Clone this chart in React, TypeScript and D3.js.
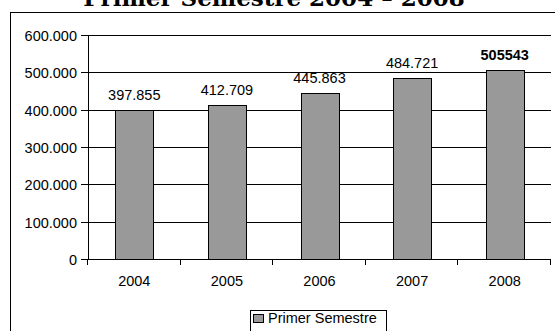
import React from "react";
import * as d3 from "d3";

const categories = ["2004", "2005", "2006", "2007", "2008"];
const values = [397855, 412709, 445863, 484721, 505543];
const valueLabels = ["397.855", "412.709", "445.863", "484.721", "505543"];
const yTicks = [0, 100000, 200000, 300000, 400000, 500000, 600000];
const yTickLabels = ["0", "100.000", "200.000", "300.000", "400.000", "500.000", "600.000"];
const seriesName = "Primer Semestre";
const title = "Primer Semestre 2004 – 2008";

export default function App() {
  const W = 555, H = 331;
  const left = 88, right = 551, top = 35, bottom = 259;
  const x = d3.scaleBand<string>().domain(categories).range([left, right]).paddingInner(0.59).paddingOuter(0.295);
  const xb = d3.scaleBand<string>().domain(categories).range([left, right]);
  const y = d3.scaleLinear().domain([0, 600000]).range([bottom, top]);
  const font = "Liberation Sans, Arial, sans-serif";
  const fs = 14.5;
  return (
    <svg width={W} height={H} style={{ position: "absolute", left: 0, top: 0, background: "#fff" }}>
      <rect x={0} y={0} width={W} height={H} fill="#fff" />
      <text x={274} y={6} textAnchor="middle" fontFamily="DejaVu Serif, serif" fontWeight="bold" fontSize={23} fill="#000">{title}</text>
      <rect x={10.5} y={12.5} width={560} height={330} fill="none" stroke="#000" strokeWidth={1} />
      {yTicks.map((t, i) => (
        <g key={t}>
          {t > 0 && <line x1={left} x2={right} y1={Math.round(y(t)) + 0.5} y2={Math.round(y(t)) + 0.5} stroke="#000" strokeWidth={1} />}
          <line x1={left - 7} x2={left} y1={Math.round(y(t)) + 0.5} y2={Math.round(y(t)) + 0.5} stroke="#000" />
          <text x={77} y={y(t) + 6} textAnchor="end" fontFamily={font} fontSize={fs} fill="#000">{yTickLabels[i]}</text>
        </g>
      ))}
      {values.map((v, i) => {
        const c = categories[i];
        const bx = x(c)!;
        return (
          <g key={c}>
            <rect x={Math.round(bx) + 0.5} y={Math.round(y(v)) + 0.5} width={Math.round(x.bandwidth())} height={Math.round(bottom - y(v))} fill="#999999" stroke="#000" strokeWidth={1} />
            <text x={bx + x.bandwidth() / 2} y={y(v) - 10} textAnchor="middle" fontFamily={font} fontSize={fs} fontWeight={i === 4 ? "bold" : "normal"} fill="#000">{valueLabels[i]}</text>
            <text x={xb(c)! + xb.bandwidth() / 2} y={286} textAnchor="middle" fontFamily={font} fontSize={fs} fill="#000">{c}</text>
          </g>
        );
      })}
      <line x1={left + 0.5} x2={left + 0.5} y1={top} y2={bottom} stroke="#000" />
      <line x1={left} x2={right} y1={bottom + 0.5} y2={bottom + 0.5} stroke="#000" />
      {categories.concat(["end"]).map((c, i) => {
        const tx = Math.round(left + i * xb.bandwidth()) - 0.5;
        return <line key={i} x1={tx} x2={tx} y1={bottom} y2={bottom + 6} stroke="#000" />;
      })}
      <rect x={250.5} y={310.5} width={136} height={30} fill="#fff" stroke="#000" />
      <rect x={253.5} y={314.5} width={10} height={8} fill="#999999" stroke="#000" />
      <text x={268} y={323} fontFamily={font} fontSize={fs} fill="#000">{seriesName}</text>
    </svg>
  );
}
